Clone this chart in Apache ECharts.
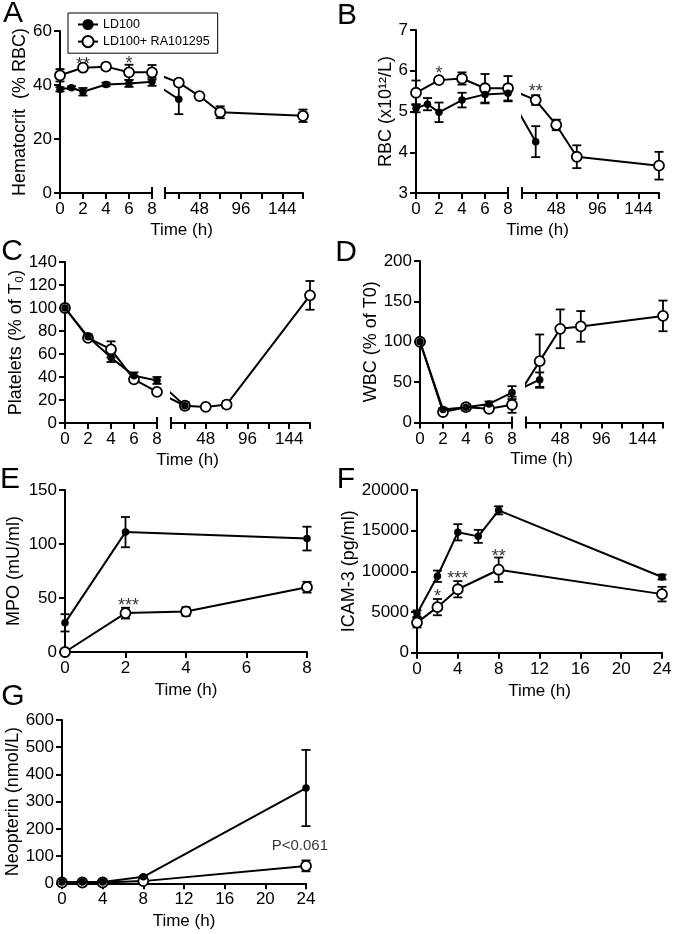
<!DOCTYPE html>
<html>
<head>
<meta charset="utf-8">
<style>
  html, body { margin: 0; padding: 0; background: #fff; }
  #chart { width: 677px; height: 934px; }
</style>
<script src="https://cdn.jsdelivr.net/npm/echarts@6/dist/echarts.min.js"></script>
</head>
<body>
<div id="chart"></div>
<script>
const FONT = '"Liberation Sans", Arial, sans-serif';
const S1 = 'LD100';
const S2 = 'LD100+ RA101295';

// A: hematocrit (% RBC) — mean, sem
const hctLdTime = [0, 1, 2, 4, 6, 8, 24];
const hctLdMean = [38.4, 39.0, 37.5, 40.2, 40.6, 41.2, 34.7];
const hctLdErr = [0.8, 0.5, 1.4, 0.7, 1.3, 1.5, 5.5];
const hctRaTime = [0, 2, 4, 6, 8, 24, 48, 72, 168];
const hctRaMean = [43.6, 46.4, 46.8, 44.7, 44.7, 40.9, 35.9, 29.9, 28.6];
const hctRaErr = [2.3, 0.6, 1.2, 2.8, 2.7, 1.2, 0.5, 2.2, 2.3];
const hctStars = [[2, 47.4, '**'], [6, 47.8, '*']];

// B: RBC (x10^12/L)
const rbcLdTime = [0, 1, 2, 4, 6, 8, 24];
const rbcLdMean = [5.08, 5.18, 4.98, 5.28, 5.42, 5.45, 4.26];
const rbcLdErr = [0.1, 0.15, 0.24, 0.18, 0.22, 0.2, 0.38];
const rbcRaTime = [0, 2, 4, 6, 8, 24, 48, 72, 168];
const rbcRaMean = [5.46, 5.77, 5.81, 5.57, 5.57, 5.28, 4.67, 3.89, 3.67];
const rbcRaErr = [0.3, 0.06, 0.15, 0.35, 0.3, 0.12, 0.13, 0.28, 0.34];
const rbcStars = [[2, 5.92, '*'], [24, 5.48, '**']];

// C: platelets (% of T0)
const pltLdTime = [0, 2, 4, 6, 8, 24];
const pltLdMean = [100, 75, 57, 41, 37, 15];
const pltLdErr = [1, 2, 4, 3, 3, 3];
const pltRaTime = [0, 2, 4, 6, 8, 24, 48, 72, 168];
const pltRaMean = [100, 74, 64, 38, 27, 15, 14, 16, 111];
const pltRaErr = [1, 2, 7, 2, 1, 2, 1, 3, 12.5];

// D: WBC (% of T0)
const wbcLdTime = [0, 2, 4, 6, 8, 24];
const wbcLdMean = [100, 16, 19, 23, 37, 53];
const wbcLdErr = [2, 2, 4, 3, 8, 9];
const wbcRaTime = [0, 2, 4, 6, 8, 24, 48, 72, 168];
const wbcRaMean = [100, 13, 19, 17, 22, 76, 116, 119, 132];
const wbcRaErr = [2, 2, 3, 3, 10, 33, 24, 19, 19];

// E: MPO (mU/ml)
const mpoLdTime = [0, 2, 8];
const mpoLdMean = [27, 111, 105];
const mpoLdErr = [8, 14, 11];
const mpoRaTime = [0, 2, 4, 8];
const mpoRaMean = [0, 36, 37.5, 60];
const mpoRaErr = [0, 5, 4, 5];
const mpoStars = [[2.1, 42.6, '***'], [8.07, 65.7, '*']];

// F: ICAM-3 (pg/ml)
const icamLdTime = [0, 2, 4, 6, 8, 24];
const icamLdMean = [4800, 9400, 14800, 14300, 17500, 9300];
const icamLdErr = [400, 700, 1000, 800, 500, 300];
const icamRaTime = [0, 2, 4, 8, 24];
const icamRaMean = [3700, 5600, 7800, 10200, 7200];
const icamRaErr = [600, 1000, 1000, 1500, 900];
const icamStars = [[2, 6840, '*'], [4, 9050, '***'], [8, 11760, '**']];

// G: neopterin (nmol/L)
const neoLdTime = [0, 2, 4, 8, 24];
const neoLdMean = [5, 5, 5, 24, 350];
const neoLdErr = [2, 2, 2, 3, 140];
const neoRaTime = [0, 2, 4, 8, 24];
const neoRaMean = [3, 3, 3, 8, 64];
const neoRaErr = [1, 1, 1, 2, 20];
const neoNote = [[23.4, 137, 'P<0.061']];

const rightTicks = [24, 48, 72, 96, 120, 144, 168];
const rightLabels = [48, 96, 144];

const grids = [], xAxis = [], yAxis = [], series = [], graphic = [];

function axis(gridIndex, o) {
  return Object.assign({
    type: 'value', gridIndex,
    axisLine: { show: true, onZero: false, lineStyle: { color: '#000', width: 2 } },
    axisTick: { show: true, length: 6, lineStyle: { color: '#000', width: 2 } },
    axisLabel: { color: '#000', fontSize: 17, fontFamily: FONT, margin: 8, formatter: (v) => String(v) },
    splitLine: { show: false },
    nameTextStyle: { color: '#000', fontSize: 18, fontFamily: FONT },
  }, o);
}

function text(x, y, str, size, rotation) {
  graphic.push({
    type: 'text', x, y, rotation: rotation || 0, silent: true,
    style: { text: str, fill: '#000', font: `${size}px ${FONT}`, align: 'center', verticalAlign: 'middle', textAlign: 'center', textVerticalAlign: 'middle' },
  });
}

function cap(x, y) {
  graphic.push({ type: 'line', silent: true, shape: { x1: x, y1: y - 6, x2: x, y2: y + 6 }, style: { stroke: '#000', lineWidth: 2 } });
}

function renderErr(params, api) {
  const x = api.value(0);
  const hi = api.coord([x, api.value(2)]);
  const lo = api.coord([x, api.value(1)]);
  const w = 4.5;
  const st = { stroke: '#000', lineWidth: 1.8 };
  return { type: 'group', children: [
    { type: 'line', shape: { x1: hi[0], y1: hi[1], x2: lo[0], y2: lo[1] }, style: st },
    { type: 'line', shape: { x1: hi[0] - w, y1: hi[1], x2: hi[0] + w, y2: hi[1] }, style: st },
    { type: 'line', shape: { x1: lo[0] - w, y1: lo[1], x2: lo[0] + w, y2: lo[1] }, style: st },
  ] };
}

function addGroup(gi, name, t, m, e, open, keep, bridge) {
  const idx = t.map((_, i) => i).filter((i) => keep(t[i]));
  if (!idx.length) return;
  const pts = idx.map((i) => [t[i], m[i]]);
  if (bridge) pts.unshift(bridge);
  series.push({
    type: 'line', name, xAxisIndex: gi, yAxisIndex: gi, data: pts,
    symbol: 'circle', symbolSize: open ? 10 : 7.5,
    itemStyle: open ? { color: '#fff', borderColor: '#000', borderWidth: 1.8 } : { color: '#000' },
    lineStyle: { color: '#000', width: 2 },
    z: open ? 3 : 4, clip: true, silent: true,
  });
  series.push({
    type: 'custom', xAxisIndex: gi, yAxisIndex: gi, z: 2, silent: true, renderItem: renderErr,
    data: idx.filter((i) => e[i] > 0).map((i) => [t[i], m[i] - e[i], m[i] + e[i]]),
  });
}

function addNotes(gi, rows, size) {
  series.push({
    type: 'scatter', xAxisIndex: gi, yAxisIndex: gi, symbolSize: 0, silent: true, z: 6,
    data: rows.map((r) => ({ value: [r[0], r[1]], label: { formatter: r[2] } })),
    label: { show: true, position: 'inside', color: '#000', fontSize: size, fontFamily: FONT },
  });
}

function broken(p, groups, stars) {
  const h = p.bottom - p.top;
  const gl = grids.length;
  grids.push({ left: p.seg[0], top: p.top, width: p.seg[1] - p.seg[0], height: h });
  grids.push({ left: p.seg[2], top: p.top, width: p.seg[3] - p.seg[2], height: h });
  const gr = gl + 1;
  xAxis.push(axis(gl, { min: 0, max: 8, interval: 2 }));
  xAxis.push(axis(gr, {
    min: 8, max: 168,
    axisTick: { show: true, length: 6, lineStyle: { color: '#000', width: 2 }, customValues: rightTicks },
    axisLabel: { color: '#000', fontSize: 17, fontFamily: FONT, margin: 8, customValues: rightLabels },
  }));
  yAxis.push(axis(gl, { min: p.y[0], max: p.y[1], interval: p.y[2], name: p.name, nameLocation: 'middle', nameGap: p.nameGap }));
  yAxis.push(axis(gr, { min: p.y[0], max: p.y[1], show: false }));
  // the line from the 8 h point is carried across the gap into the right segment
  const bx = 8 - (p.seg[2] - p.seg[1]) * 160 / (p.seg[3] - p.seg[2]);
  groups.forEach(([name, t, m, e, open]) => {
    addGroup(gl, name, t, m, e, open, (v) => v <= 8);
    const i8 = t.indexOf(8);
    const bridge = i8 >= 0 ? { value: [bx, m[i8]], symbol: 'none' } : null;
    addGroup(gr, name, t, m, e, open, (v) => v > 8, bridge);
  });
  if (stars) {
    addNotes(gl, stars.filter((s) => s[0] <= 8), 18);
    addNotes(gr, stars.filter((s) => s[0] > 8), 18);
  }
  cap(p.seg[1], p.bottom);
  cap(p.seg[2], p.bottom);
  text((p.seg[0] + p.seg[3]) / 2, p.bottom + 37, 'Time (h)', 17);
  text(p.letterAt[0], p.letterAt[1], p.letter, 30);
}

function simple(p, groups, notes, noteSize) {
  const g = grids.length;
  grids.push({ left: p.x[0], top: p.top, width: p.x[1] - p.x[0], height: p.bottom - p.top });
  xAxis.push(axis(g, { min: 0, max: p.xMax, interval: p.xStep, name: 'Time (h)', nameLocation: 'middle', nameGap: 30,
    nameTextStyle: { color: '#000', fontSize: 17, fontFamily: FONT } }));
  yAxis.push(axis(g, { min: p.y[0], max: p.y[1], interval: p.y[2], name: p.name, nameLocation: 'middle', nameGap: p.nameGap }));
  groups.forEach(([name, t, m, e, open]) => addGroup(g, name, t, m, e, open, () => true));
  if (notes) addNotes(g, notes, noteSize);
  text(p.letterAt[0], p.letterAt[1], p.letter, 30);
}

broken({ letter: 'A', letterAt: [13, 14], name: 'Hematocrit  (% RBC)', nameGap: 30, y: [0, 60, 20],
  top: 31, bottom: 193, seg: [60, 152, 165, 303] },
  [[S1, hctLdTime, hctLdMean, hctLdErr, false], [S2, hctRaTime, hctRaMean, hctRaErr, true]], hctStars);
broken({ letter: 'B', letterAt: [347, 16], name: 'RBC (x10¹²/L)', nameGap: 14, y: [3, 7, 1],
  top: 30, bottom: 193, seg: [416, 508, 522, 659] },
  [[S1, rbcLdTime, rbcLdMean, rbcLdErr, false], [S2, rbcRaTime, rbcRaMean, rbcRaErr, true]], rbcStars);
broken({ letter: 'C', letterAt: [12, 252], name: 'Platelets (% of T₀)', nameGap: 40, y: [0, 140, 20],
  top: 262, bottom: 423, seg: [65, 157, 171, 310] },
  [[S2, pltRaTime, pltRaMean, pltRaErr, true], [S1, pltLdTime, pltLdMean, pltLdErr, false]]);
broken({ letter: 'D', letterAt: [346, 253], name: 'WBC (% of T0)', nameGap: 38, y: [0, 200, 50],
  top: 261, bottom: 422.5, seg: [420, 512, 526, 663] },
  [[S1, wbcLdTime, wbcLdMean, wbcLdErr, false], [S2, wbcRaTime, wbcRaMean, wbcRaErr, true]]);
simple({ letter: 'E', letterAt: [10, 480], name: 'MPO (mU/ml)', nameGap: 42, y: [0, 150, 50],
  top: 490, bottom: 652, x: [65, 307], xMax: 8, xStep: 2 },
  [[S1, mpoLdTime, mpoLdMean, mpoLdErr, false], [S2, mpoRaTime, mpoRaMean, mpoRaErr, true]], mpoStars, 18);
simple({ letter: 'F', letterAt: [346, 480], name: 'ICAM-3 (pg/ml)', nameGap: 58, y: [0, 20000, 5000],
  top: 490, bottom: 652.7, x: [417, 662], xMax: 24, xStep: 4 },
  [[S1, icamLdTime, icamLdMean, icamLdErr, false], [S2, icamRaTime, icamRaMean, icamRaErr, true]], icamStars, 18);
simple({ letter: 'G', letterAt: [13, 697], name: 'Neopterin (nmol/L)', nameGap: 36, y: [0, 600, 100],
  top: 720, bottom: 883.3, x: [62, 306], xMax: 24, xStep: 4 },
  [[S1, neoLdTime, neoLdMean, neoLdErr, false], [S2, neoRaTime, neoRaMean, neoRaErr, true]], neoNote, 15);

const chart = echarts.init(document.getElementById('chart'), null, { renderer: 'canvas' });
chart.setOption({
  animation: false,
  backgroundColor: '#fff',
  textStyle: { fontFamily: FONT },
  legend: {
    data: [S1, S2], orient: 'vertical', left: 68, top: 13,
    padding: [5, 8, 5, 9], itemGap: 4, itemWidth: 20, itemHeight: 14,
    borderColor: '#000', borderWidth: 1,
    textStyle: { color: '#000', fontSize: 12.5, fontFamily: FONT },
    selectedMode: false,
  },
  grid: grids,
  xAxis,
  yAxis,
  series,
  graphic,
});
</script>
</body>
</html>
